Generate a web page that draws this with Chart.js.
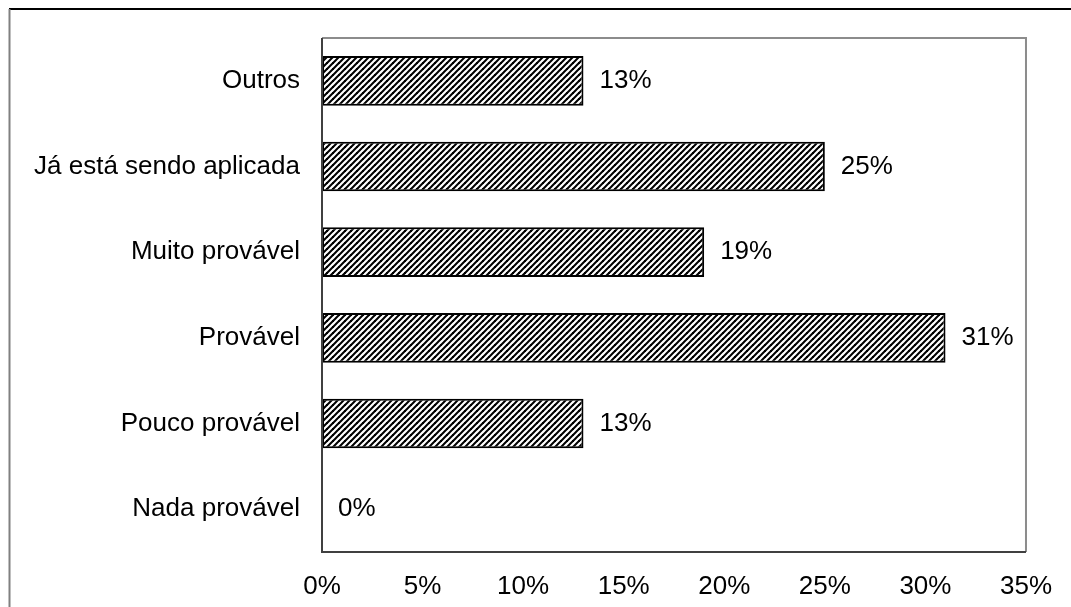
<!DOCTYPE html>
<html>
<head>
<meta charset="utf-8">
<script src="https://cdn.jsdelivr.net/npm/chart.js@4/dist/chart.umd.min.js"></script>
<style>
html,body{margin:0;padding:0;background:#fff;}
#wrap{width:1071px;height:607px;position:relative;}
</style>
</head>
<body>
<div id="wrap"><canvas id="c" width="1071" height="607"></canvas></div>
<script>
const categories = ['Outros', 'Já está sendo aplicada', 'Muito provável', 'Provável', 'Pouco provável', 'Nada provável'];
const values = [13, 25, 19, 31, 13, 0];
const tickValues = [0, 5, 10, 15, 20, 25, 30, 35];

function makeHatch() {
  const t = document.createElement('canvas');
  t.width = 6; t.height = 6;
  const g = t.getContext('2d');
  g.fillStyle = '#fff';
  g.fillRect(0, 0, 6, 6);
  g.strokeStyle = '#000';
  g.lineWidth = 2;
  g.beginPath();
  g.moveTo(-1, 7); g.lineTo(7, -1);
  g.moveTo(-4, 4); g.lineTo(4, -4);
  g.moveTo(2, 10); g.lineTo(10, 2);
  g.stroke();
  g.fillStyle = '#000';
  g.fillRect(2, 2, 2, 2);
  return g.createPattern(t, 'repeat');
}

const FONT = {family: '"Liberation Sans", Arial, sans-serif', size: 26};

const framePlugin = {
  id: 'frame',
  beforeDraw(chart) {
    const ctx = chart.ctx;
    ctx.save();
    ctx.fillStyle = '#fff';
    ctx.fillRect(0, 0, chart.width, chart.height);
    ctx.strokeStyle = '#000';
    ctx.lineWidth = 2;
    ctx.beginPath();
    ctx.moveTo(9, 9); ctx.lineTo(chart.width, 9);
    ctx.stroke();
    ctx.strokeStyle = '#808080';
    ctx.beginPath();
    ctx.moveTo(9.5, 9); ctx.lineTo(9.5, chart.height);
    ctx.stroke();
    ctx.restore();
  },
  afterDraw(chart) {
    const ctx = chart.ctx;
    const a = chart.chartArea;
    ctx.save();
    ctx.strokeStyle = '#8c8c8c';
    ctx.lineWidth = 2;
    ctx.beginPath();
    ctx.moveTo(a.left, a.top); ctx.lineTo(a.right, a.top); ctx.lineTo(a.right, a.bottom);
    ctx.stroke();
    ctx.strokeStyle = '#404040';
    ctx.beginPath();
    ctx.moveTo(a.left, a.top); ctx.lineTo(a.left, a.bottom); ctx.lineTo(a.right, a.bottom);
    ctx.stroke();
    // value labels
    ctx.fillStyle = '#000';
    ctx.font = FONT.size + 'px ' + FONT.family;
    ctx.textBaseline = 'middle';
    ctx.textAlign = 'left';
    const meta = chart.getDatasetMeta(0);
    meta.data.forEach((bar, i) => {
      ctx.fillText(values[i] + '%', bar.x + 16, bar.y);
    });
    ctx.restore();
  }
};

new Chart(document.getElementById('c'), {
  type: 'bar',
  data: {
    labels: categories,
    datasets: [{
      data: values,
      backgroundColor: makeHatch(),
      borderColor: '#000',
      borderWidth: 2,
      borderSkipped: false,
      categoryPercentage: 1,
      barPercentage: 0.58
    }]
  },
  options: {
    indexAxis: 'y',
    responsive: false,
    animation: false,
    layout: {padding: {top: 38, right: 44, left: 0, bottom: 0}},
    plugins: {legend: {display: false}, tooltip: {enabled: false}},
    scales: {
      x: {
        min: 0, max: 35,
        afterBuildTicks(scale) { scale.ticks = tickValues.map(v => ({value: v})); },
        afterFit(scale) { scale.height = 55; },
        grid: {display: false, drawTicks: false},
        border: {display: false},
        ticks: {padding: 19, color: '#000', font: FONT, maxRotation: 0, autoSkip: false,
                callback: v => v + '%'}
      },
      y: {
        afterFit(scale) { scale.width = 322; },
        grid: {display: false, drawTicks: false},
        border: {display: false},
        ticks: {padding: 22, color: '#000', font: FONT}
      }
    }
  },
  plugins: [framePlugin]
});
</script>
</body>
</html>
